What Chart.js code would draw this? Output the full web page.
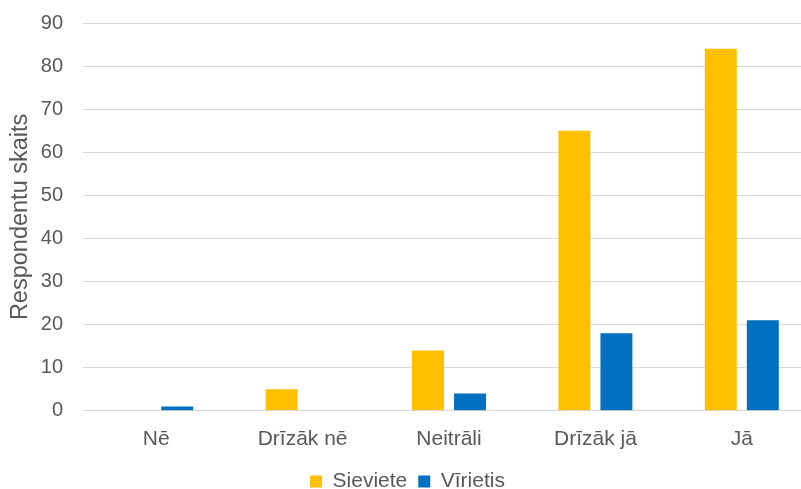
<!DOCTYPE html>
<html>
<head>
<meta charset="utf-8">
<script src="https://cdn.jsdelivr.net/npm/chart.js@4/dist/chart.umd.min.js"></script>
<style>
    html, body { margin: 0; padding: 0; background: #fff; overflow: hidden; }
    #wrap { width: 824px; height: 502px; }
</style>
</head>
<body>
<div id="wrap"><canvas id="answersChart" width="824" height="502"></canvas></div>
<script>
const CATEGORIES = ['Nē', 'Drīzāk nē', 'Neitrāli', 'Drīzāk jā', 'Jā'];
const SERIES_NAMES = ['Sieviete', 'Vīrietis'];
const WOMEN = [0, 5, 14, 65, 84];
const MEN = [1, 0, 4, 18, 21];
const Y_TICKS = [0, 10, 20, 30, 40, 50, 60, 70, 80, 90];

const FONT = 'Liberation Sans, Arial, sans-serif';
const GREY = '#595959';

function buildDataset(sLabel, aData, sColor) {
    return {
        label: sLabel,
        data: aData,
        backgroundColor: sColor,
        borderWidth: 0,
        categoryPercentage: 0.574,
        barPercentage: 0.76
    };
}

new Chart(document.getElementById('answersChart').getContext('2d'), {
    type: 'bar',
    data: {
        labels: CATEGORIES,
        datasets: [
            buildDataset(SERIES_NAMES[0], WOMEN, '#FFC000'),
            buildDataset(SERIES_NAMES[1], MEN, '#0070C0')
        ]
    },
    options: {
        responsive: false,
        animation: false,
        layout: { padding: { top: 0, left: 0, right: 9, bottom: 0 } },
        plugins: {
            tooltip: { enabled: false },
            legend: {
                position: 'bottom',
                labels: {
                    boxWidth: 12,
                    boxHeight: 12,
                    padding: 11,
                    color: GREY,
                    font: { family: FONT, size: 21 }
                }
            }
        },
        scales: {
            x: {
                grid: { display: false },
                border: { display: false },
                ticks: { color: GREY, font: { family: FONT, size: 21 }, padding: 8 }
            },
            y: {
                min: Y_TICKS[0],
                max: Y_TICKS[Y_TICKS.length - 1],
                afterBuildTicks: function(axis) {
                    axis.ticks = Y_TICKS.map(function(v) { return { value: v }; });
                },
                // pin the axis box so the plot starts where the reference does
                afterFit: function(axis) {
                    axis.width = 83;
                    axis.paddingTop = 23;
                },
                grid: { color: '#D9D9D9', lineWidth: 1, drawTicks: false },
                border: { display: false },
                ticks: { color: GREY, font: { family: FONT, size: 20 }, padding: 20 },
                title: {
                    display: true,
                    text: 'Respondentu skaits',
                    color: GREY,
                    font: { family: FONT, size: 23.5 },
                    padding: { top: 6, bottom: 7 }
                }
            }
        }
    }
});
</script>
</body>
</html>
